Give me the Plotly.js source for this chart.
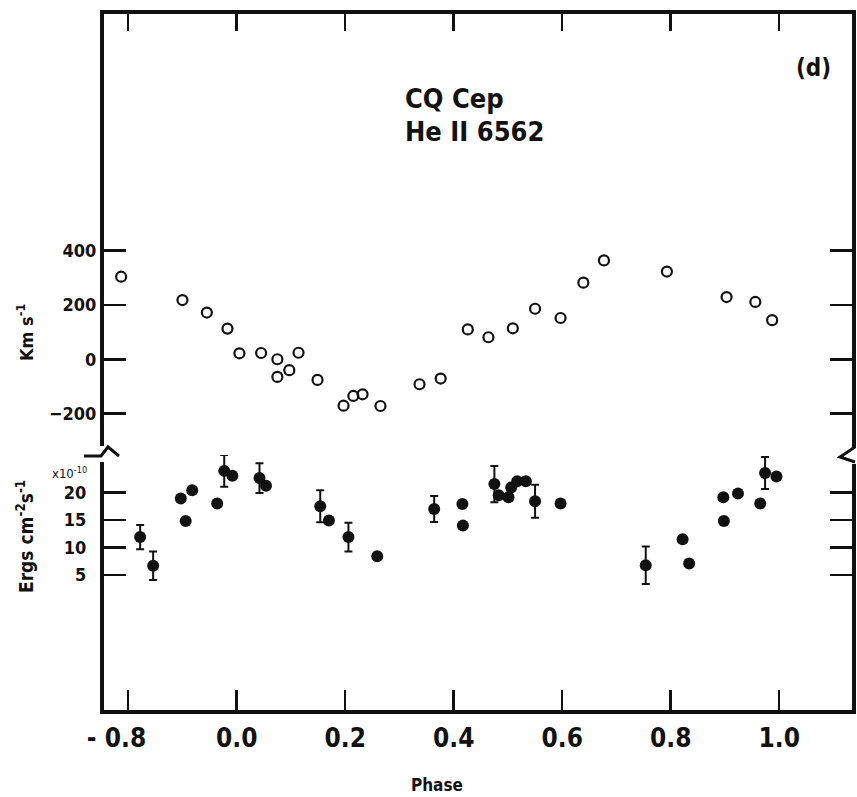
<!DOCTYPE html>
<html>
<head>
<meta charset="utf-8">
<script src="https://cdn.plot.ly/plotly-3.0.1.min.js"></script>
<style>
  html, body { margin: 0; padding: 0; background: #fff; }
  #chart { width: 857px; height: 797px; }
</style>
</head>
<body>
<div id="chart"></div>
<script>
// CQ Cep, He II 6562: radial velocity (upper panel) and line flux (lower panel) versus orbital phase

// Radial velocity, km/s
const velPhase = [-0.213, -0.100, -0.055, -0.017, 0.005, 0.045, 0.075, 0.075, 0.097, 0.114,
                  0.149, 0.197, 0.215, 0.232, 0.265, 0.337, 0.376, 0.426, 0.464, 0.509,
                  0.550, 0.597, 0.639, 0.677, 0.793, 0.903, 0.956, 0.987];
const velocity = [304, 218, 172, 113, 22, 23, 0, -65, -40, 24,
                  -76, -171, -135, -129, -172, -92, -71, 110, 81, 114,
                  186, 152, 282, 364, 323, 229, 211, 144];

// Line flux, units of 1e-10 erg cm^-2 s^-1 (0 = no error bar drawn)
const fluxPhase = [-0.178, -0.154, -0.103, -0.082, -0.094, -0.036, -0.023, -0.008, 0.042, 0.054,
                   0.154, 0.170, 0.206, 0.259, 0.364, 0.416, 0.417, 0.475, 0.483, 0.501,
                   0.506, 0.517, 0.533, 0.550, 0.597, 0.754, 0.822, 0.834, 0.897, 0.898,
                   0.924, 0.965, 0.974, 0.995];
const flux = [11.9, 6.7, 18.9, 20.4, 14.8, 18.0, 23.9, 23.0, 22.6, 21.2,
              17.5, 14.9, 11.9, 8.4, 17.0, 17.9, 14.0, 21.5, 19.5, 19.1,
              20.9, 22.0, 22.0, 18.4, 18.0, 6.8, 11.5, 7.1, 19.1, 14.8,
              19.8, 18.0, 23.5, 22.9];
const fluxErr = [2.2, 2.6, 0, 0, 0, 0, 2.9, 0, 2.7, 0,
                 2.9, 0, 2.6, 0, 2.35, 0, 0, 3.3, 0, 0,
                 0, 0, 0, 3.0, 0, 3.4, 0, 0, 0, 0,
                 0, 0, 2.9, 0];

// Axis ticks
const phaseTicks = [-0.2, 0.0, 0.2, 0.4, 0.6, 0.8, 1.0];
const phaseTickText = ['- 0.8\u2002\u2002', '0.0', '0.2', '0.4', '0.6', '0.8', '1.0'];
const velTicks = [400, 200, 0, -200];
const fluxTicks = [20, 15, 10, 5];

const FONT = "'DejaVu Sans Condensed', 'Liberation Sans Narrow', 'DejaVu Sans', sans-serif";
const INK = '#111';

// plot-area geometry in pixels, used to place decorations in paper coordinates
const W = 857, H = 797;
const M = {l: 104, r: 5, t: 14, b: 87};
const PW = W - M.l - M.r, PH = H - M.t - M.b;
const px = x => (x - M.l) / PW;
const py = y => (H - M.b - y) / PH;
const breakY = py(455);

const traces = [
  {
    x: velPhase, y: velocity, xaxis: 'x2', yaxis: 'y',
    type: 'scatter', mode: 'markers',
    marker: {symbol: 'circle-open', size: 10, color: INK, line: {width: 2.2, color: INK}},
    hoverinfo: 'x+y'
  },
  {
    x: fluxPhase, y: flux, xaxis: 'x', yaxis: 'y2',
    type: 'scatter', mode: 'markers',
    marker: {symbol: 'circle', size: 12, color: INK},
    error_y: {type: 'data', array: fluxErr, visible: true, color: INK, thickness: 2, width: 4},
    hoverinfo: 'x+y'
  }
];

const axisCommon = {
  showline: true, linecolor: INK, linewidth: 4,
  ticks: 'inside', tickcolor: INK, tickwidth: 2.5,
  showgrid: false, zeroline: false, fixedrange: true
};

// centred text label in paper coordinates
function label(text, x, y, size, extra) {
  return Object.assign({
    text: text, xref: 'paper', yref: 'paper', x: px(x), y: py(y),
    xanchor: 'center', yanchor: 'middle', showarrow: false,
    font: {size: size, weight: 'bold'}
  }, extra || {});
}

const layout = {
  width: W, height: H,
  margin: M,
  paper_bgcolor: '#fff', plot_bgcolor: '#fff',
  showlegend: false,
  font: {family: FONT, color: INK},
  xaxis: Object.assign({}, axisCommon, {
    domain: [0, 1], anchor: 'y2', side: 'bottom',
    range: [-0.2446, 1.1342],
    tickmode: 'array', tickvals: phaseTicks, ticktext: phaseTickText,
    ticklen: 20,
    tickfont: {family: FONT, size: 26, weight: 'bold', color: INK},
    ticklabelstandoff: 2
  }),
  xaxis2: Object.assign({}, axisCommon, {
    domain: [0, 1], anchor: 'y', side: 'top', matches: 'x',
    range: [-0.2446, 1.1342],
    tickmode: 'array', tickvals: phaseTicks,
    ticklen: 17, showticklabels: false
  }),
  yaxis: Object.assign({}, axisCommon, {
    domain: [breakY, 1], anchor: 'x2', mirror: 'ticks',
    range: [-352.4, 1271],
    tickmode: 'array', tickvals: velTicks,
    ticklen: 22,
    tickfont: {family: FONT, size: 18, weight: 'bold', color: INK}
  }),
  yaxis2: Object.assign({}, axisCommon, {
    domain: [0, breakY], anchor: 'x', mirror: 'ticks',
    range: [-19.47, 26.78],
    tickmode: 'array', tickvals: fluxTicks,
    ticklen: 22,
    tickfont: {family: FONT, size: 18, weight: 'bold', color: INK},
    ticklabelstandoff: 10
  }),
  annotations: [
    label('CQ Cep', 462, 98, 27, {xanchor: 'left', x: px(403)}),
    label('He II 6562', 469, 131, 27, {xanchor: 'left', x: px(403)}),
    label('(d)', 813, 68, 24),
    label('Km s<sup>-1</sup>', 25, 333, 18, {textangle: -90}),
    label('Ergs cm<sup>-2</sup>s<sup>-1</sup>', 25, 537, 19, {textangle: -90}),
    label('x10<sup>-10</sup>', 69, 473, 13, {font: {size: 13, weight: 'normal'}}),
    label('Phase', 437, 785, 17)
  ],
  shapes: [
    // gaps in the vertical axes where the two scales meet
    {type: 'rect', xref: 'paper', yref: 'paper', layer: 'above',
     x0: px(96), x1: px(109), y0: py(446), y1: py(462),
     fillcolor: '#fff', line: {width: 0}},
    {type: 'rect', xref: 'paper', yref: 'paper', layer: 'above',
     x0: px(849), x1: px(860), y0: py(448), y1: py(464),
     fillcolor: '#fff', line: {width: 0}},
    // break marks
    {type: 'path', xref: 'paper', yref: 'paper', layer: 'above',
     path: `M ${px(84)} ${py(456)} L ${px(101)} ${py(456)} L ${px(108)} ${py(447)} L ${px(119)} ${py(456)}`,
     line: {color: INK, width: 3}},
    {type: 'path', xref: 'paper', yref: 'paper', layer: 'above',
     path: `M ${px(855)} ${py(447)} L ${px(840)} ${py(457)} L ${px(855)} ${py(462)}`,
     line: {color: INK, width: 3}}
  ]
};

Plotly.newPlot('chart', traces, layout, {staticPlot: true, displayModeBar: false});
</script>
</body>
</html>
